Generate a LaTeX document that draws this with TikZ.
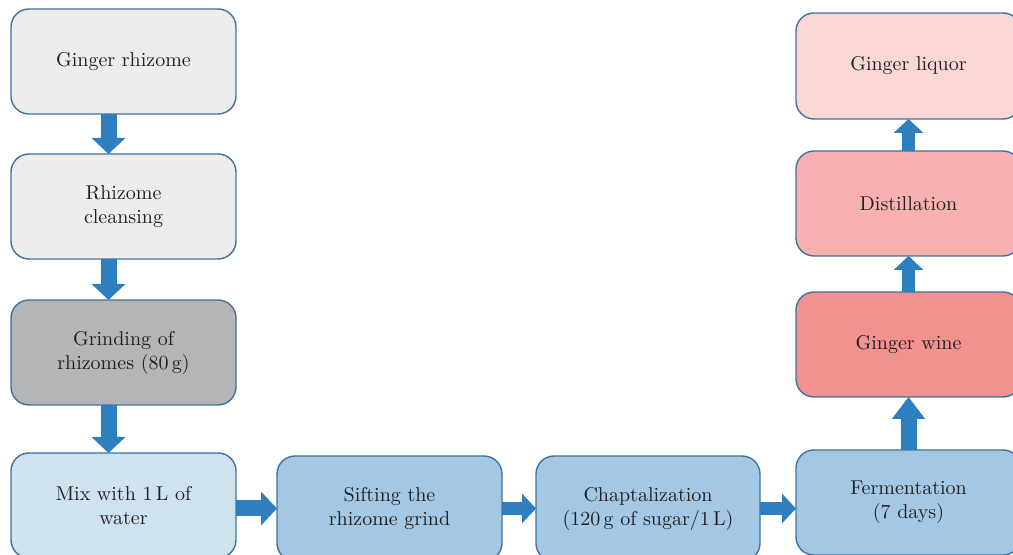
\documentclass[tikz,border=0pt]{standalone}
\usetikzlibrary{arrows.meta, positioning}

\definecolor{boxedge}{HTML}{41719C}
\definecolor{flowblue}{HTML}{2E7FC0}
\definecolor{inktext}{HTML}{231F20}
\definecolor{grayA}{HTML}{ECEDED}
\definecolor{grayB}{HTML}{B4B5B6}
\definecolor{blueA}{HTML}{CFE2F0}
\definecolor{blueB}{HTML}{A4C8E3}
\definecolor{pinkA}{HTML}{F9D7D4}
\definecolor{pinkB}{HTML}{F6B1B0}
\definecolor{pinkC}{HTML}{F0928F}

\begin{document}
\begin{tikzpicture}[
  box/.style={
    rectangle,
    rounded corners=9pt,
    draw=boxedge,
    line width=0.7pt,
    outer sep=0pt,
    minimum width=112.5pt,
    minimum height=52.5pt,
    align=center,
    text=inktext
  },
  every node/.style={font=\normalsize},
  flow/.style={draw=flowblue, line width=8pt, -{Triangle[width=16.5pt, length=8pt]}},
  flowsmall/.style={draw=flowblue, line width=6.75pt, -{Triangle[width=14.5pt, length=7pt]}},
  flowbig/.style={draw=flowblue, line width=8pt, -{Triangle[width=16pt, length=11pt]}}
]

% ------------------------------------------------------------
% Frame
% ------------------------------------------------------------

\clip (0,0) rectangle (506.5pt,-277.5pt);

% ------------------------------------------------------------
% Left column
% ------------------------------------------------------------

\node[box, fill=grayA] (rhizome) at (61.75pt,-30.75pt) {Ginger rhizome};
\node[box, fill=grayA, below=20pt of rhizome] (cleansing) {Rhizome\\cleansing};
\node[box, fill=grayB, below=20.5pt of cleansing] (grinding) {Grinding of\\rhizomes (80\,g)};
\node[box, fill=blueA, below=24pt of grinding] (mix) {Mix with 1\,L of\\water};

% ------------------------------------------------------------
% Bottom row
% ------------------------------------------------------------

\node[box, fill=blueB, right=20.5pt of mix, yshift=-1.5pt] (sifting) {Sifting the\\rhizome grind};
\node[box, fill=blueB, minimum width=112pt, right=17pt of sifting] (chapt) {Chaptalization\\(120\,g of sugar/1\,L)};
\node[box, fill=blueB, right=18pt of chapt, yshift=3pt] (ferment) {Fermentation\\(7 days)};

% ------------------------------------------------------------
% Right column
% ------------------------------------------------------------

\node[box, fill=pinkC, above=26.5pt of ferment] (wine) {Ginger wine};
\node[box, fill=pinkB, above=18pt of wine] (distill) {Distillation};
\node[box, fill=pinkA, minimum height=53pt, above=16pt of distill] (liquor) {Ginger liquor};

% ------------------------------------------------------------
% Process flow
% ------------------------------------------------------------

\draw[flow] ([xshift=-7.5pt]rhizome.south) -- ([xshift=-7.5pt]cleansing.north);
\draw[flow] ([xshift=-7.5pt]cleansing.south) -- ([xshift=-7.5pt]grinding.north);
\draw[flow] ([xshift=-7.5pt]grinding.south) -- ([xshift=-7.5pt]mix.north);

\draw[flow] (sifting.west -| mix.east) -- (sifting.west);
\draw[flowsmall] (sifting) -- (chapt);
\draw[flowsmall] (chapt.east) -- (chapt.east -| ferment.west);

\draw[flowbig] (ferment) -- (wine);
\draw[flowsmall] (wine) -- (distill);
\draw[flowsmall] (distill) -- (liquor);

\end{tikzpicture}
\end{document}
